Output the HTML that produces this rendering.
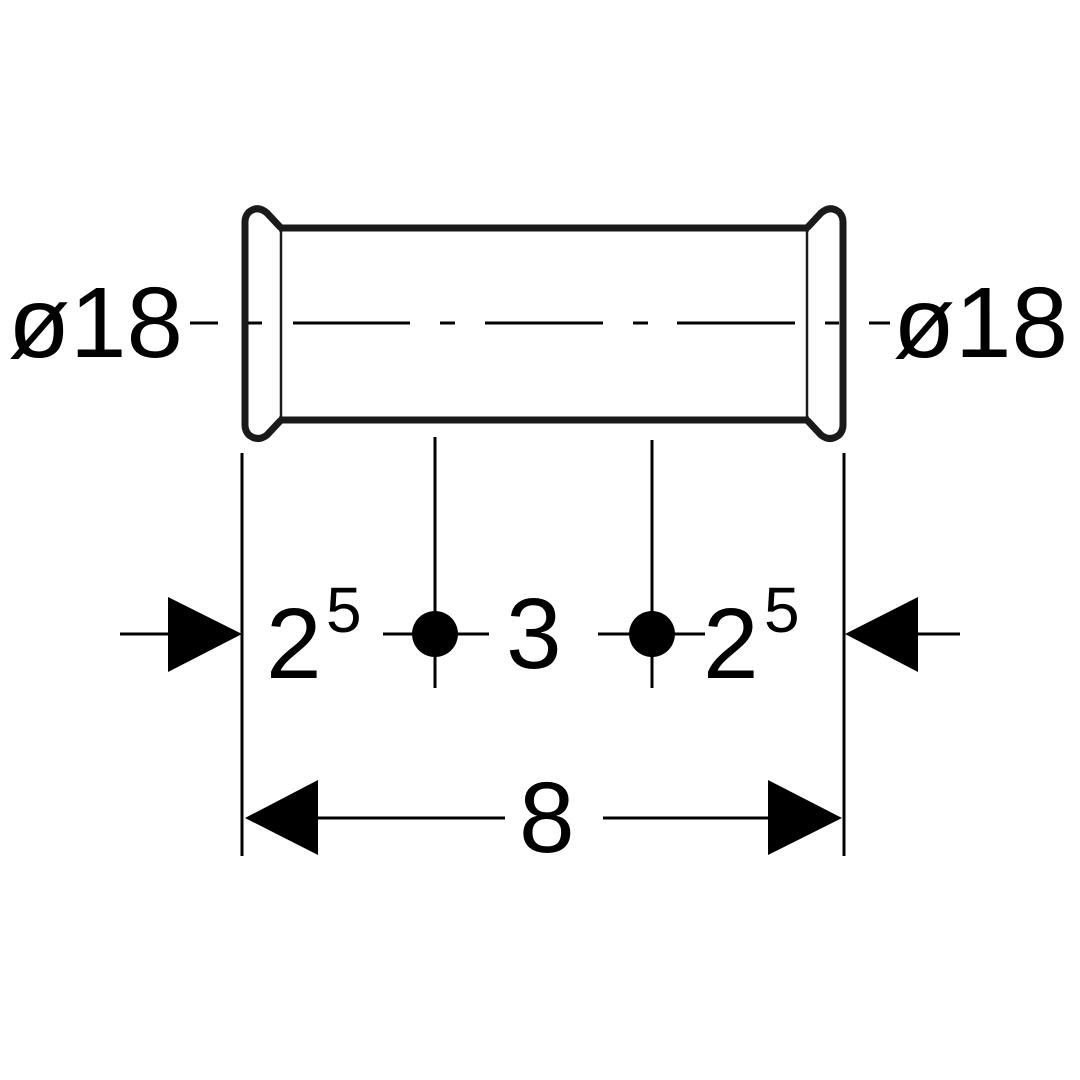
<!DOCTYPE html>
<html><head><style>
html,body{margin:0;padding:0;background:#fff;}
svg{display:block}
text{font-family:"Liberation Sans",sans-serif;fill:#000}
</style></head><body>
<svg width="1080" height="1080" viewBox="0 0 1080 1080">
<g fill="none" stroke="#1a1a1a" stroke-width="7" stroke-linejoin="round">
<path d="M281,228 L267,213 Q258,205 249,212 Q245,216 245,222 L245,425 Q245,431 249,435 Q258,442 267,435 L281,420"/>
<path d="M807,228 L821,213 Q830,205 839,212 Q843,216 843,222 L843,425 Q843,431 839,435 Q830,442 821,435 L807,420"/>
<line x1="279" y1="228" x2="809" y2="228"/>
<line x1="279" y1="420" x2="809" y2="420"/>
</g>
<g stroke="#1a1a1a" stroke-width="2.5">
<line x1="281" y1="228" x2="281" y2="420"/>
<line x1="807" y1="228" x2="807" y2="420"/>
</g>
<g stroke="#000" stroke-width="3">
<line x1="190" y1="323" x2="218" y2="323"/>
<line x1="248" y1="323" x2="262" y2="323"/>
<line x1="293" y1="323" x2="410" y2="323"/>
<line x1="440" y1="323" x2="455" y2="323"/>
<line x1="485" y1="323" x2="603" y2="323"/>
<line x1="633" y1="323" x2="648" y2="323"/>
<line x1="677" y1="323" x2="795" y2="323"/>
<line x1="825" y1="323" x2="839" y2="323"/>
<line x1="869" y1="323" x2="890" y2="323"/>
<line x1="242" y1="453" x2="242" y2="856"/>
<line x1="844" y1="453" x2="844" y2="856"/>
<line x1="435" y1="437" x2="435" y2="688"/>
<line x1="652" y1="440" x2="652" y2="688"/>
<line x1="120" y1="634" x2="170" y2="634"/>
<line x1="916" y1="634" x2="960" y2="634"/>
<line x1="383" y1="634" x2="489" y2="634"/>
<line x1="598" y1="634" x2="705" y2="634"/>
<line x1="316" y1="818" x2="505" y2="818"/>
<line x1="603" y1="818" x2="770" y2="818"/>
</g>
<circle cx="435" cy="634" r="23" fill="#000"/>
<circle cx="652" cy="634" r="23" fill="#000"/>
<polygon points="168,597 242,634 168,672" fill="#000"/>
<polygon points="918,597 845,634 918,672" fill="#000"/>
<polygon points="245,818 318,780 318,855" fill="#000"/>
<polygon points="842,818 768,780 768,855" fill="#000"/>
<text x="8" y="357" font-size="100" textLength="175" lengthAdjust="spacingAndGlyphs">ø18</text>
<text x="893" y="357" font-size="100" textLength="175" lengthAdjust="spacingAndGlyphs">ø18</text>
<text x="266" y="678" font-size="100">2</text>
<text x="326" y="632" font-size="64">5</text>
<text x="506" y="668" font-size="100">3</text>
<text x="703" y="678" font-size="100">2</text>
<text x="764" y="632" font-size="64">5</text>
<text x="519" y="852" font-size="100">8</text>
</svg>
</body></html>
